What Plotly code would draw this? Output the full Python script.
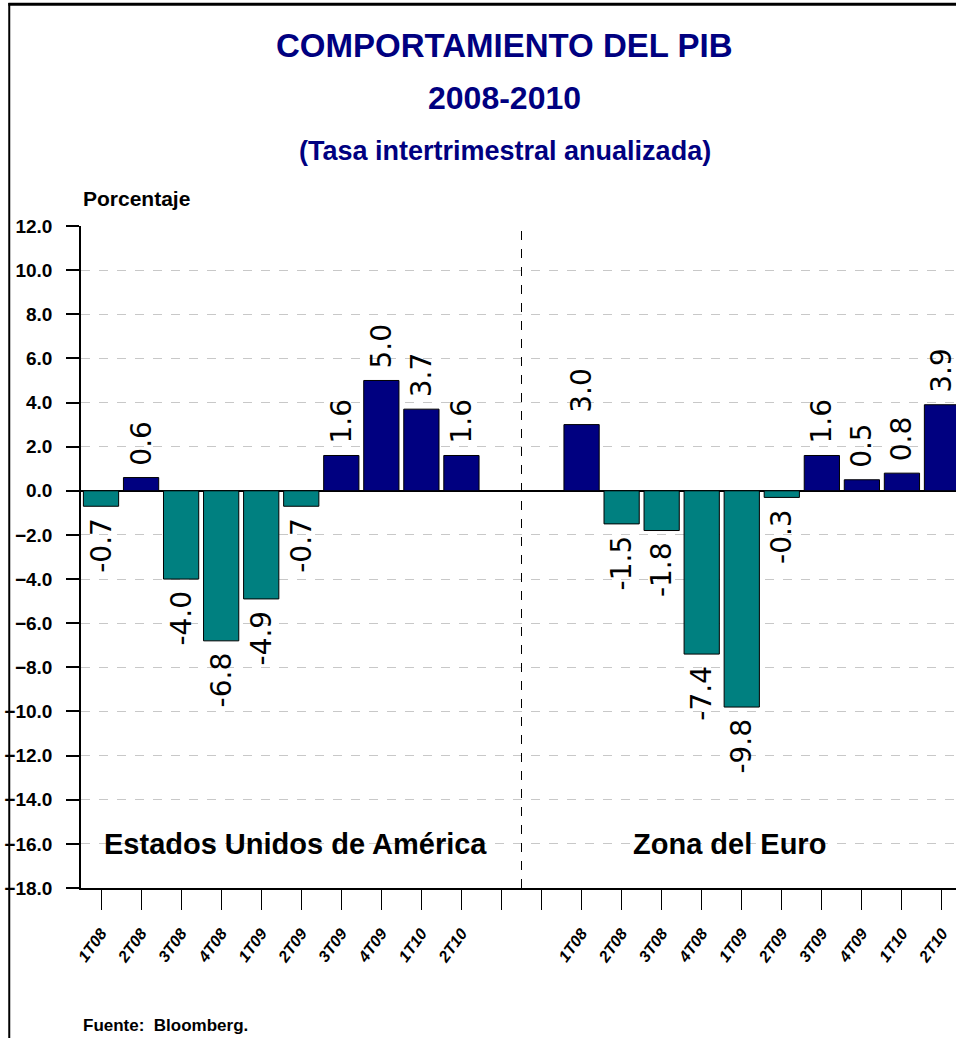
import plotly.graph_objects as go

# Tasa intertrimestral anualizada del PIB, 2008-2010
trimestres = ["1T08", "2T08", "3T08", "4T08", "1T09", "2T09", "3T09", "4T09", "1T10", "2T10"]
pib_eua = [-0.7, 0.6, -4.0, -6.8, -4.9, -0.7, 1.6, 5.0, 3.7, 1.6]
pib_euro = [3.0, -1.5, -1.8, -7.4, -9.8, -0.3, 1.6, 0.5, 0.8, 3.9]

NAVY = "#000080"
TEAL = "#008080"
SANS = "Liberation Sans, Arial, sans-serif"
NBSP = "\u00a0"

keys_eua = ["EUA " + t for t in trimestres]
keys_euro = ["ZE " + t for t in trimestres]
gaps = ["gap1", "gap2"]
all_keys = keys_eua + gaps + keys_euro
all_text = trimestres + ["", ""] + trimestres


def bar_colors(values):
    return [NAVY if v > 0 else TEAL for v in values]


def bar_labels(values):
    # small padding between the bar end and the rotated label
    return [NBSP + f"{v:.1f}" if v > 0 else f"{v:.1f}" + NBSP for v in values]


fig = go.Figure()
for keys, values in [(keys_eua, pib_eua), (keys_euro, pib_euro)]:
    fig.add_trace(go.Bar(
        x=keys,
        y=values,
        width=0.88,
        marker=dict(color=bar_colors(values), line=dict(color="black", width=1)),
        text=bar_labels(values),
        textposition="outside",
        textangle=-90,
        constraintext="none",
        cliponaxis=False,
        textfont=dict(family="DejaVu Sans, Verdana, sans-serif", size=28, color="black"),
        showlegend=False,
    ))

fig.update_layout(
    width=956,
    height=1038,
    margin=dict(l=81, r=0, t=226, b=150, autoexpand=False),
    paper_bgcolor="white",
    plot_bgcolor="white",
    xaxis=dict(
        type="category",
        categoryorder="array",
        categoryarray=all_keys,
        tickvals=all_keys,
        ticktext=all_text,
        range=[-0.5, 21.35],
        automargin=False,
        tickangle=-54,
        ticks="outside",
        ticklen=20,
        tickcolor="black",
        ticklabelstandoff=8,
        tickfont=dict(family=SANS, size=16, color="black", style="italic", weight="bold"),
        showline=True,
        linecolor="black",
        linewidth=1.5,
        showgrid=False,
    ),
    yaxis=dict(
        range=[-18, 12],
        dtick=2,
        tickformat=".1f",
        automargin=False,
        ticks="outside",
        ticklen=13,
        tickcolor="black",
        tickwidth=1.5,
        ticklabelstandoff=10,
        tickfont=dict(family=SANS, size=19, color="black", weight="bold"),
        showline=True,
        linecolor="black",
        linewidth=1.5,
        showgrid=True,
        gridcolor="#c8c8c8",
        griddash="dash",
        zeroline=True,
        zerolinecolor="black",
        zerolinewidth=1.5,
    ),
)

# linea divisoria entre regiones
fig.add_shape(type="line", xref="x", yref="y", x0=10.5, x1=10.5, y0=-18, y1=12,
              line=dict(color="black", width=1, dash="dash"))

# marco de la imagen
fig.add_shape(type="line", xref="paper", yref="paper", x0=-0.083, x1=1.0, y0=1.335, y1=1.335,
              line=dict(color="black", width=3))
fig.add_shape(type="line", xref="paper", yref="paper", x0=-0.082, x1=-0.082, y0=1.337, y1=-0.23,
              line=dict(color="black", width=2))

title_font = dict(family=SANS, color=NAVY, weight="bold")
fig.add_annotation(text="COMPORTAMIENTO DEL PIB", xref="paper", yref="paper", x=0.484, y=1.273,
                   yanchor="middle", showarrow=False, font=dict(size=33, **title_font))
fig.add_annotation(text="2008-2010", xref="paper", yref="paper", x=0.484, y=1.193,
                   yanchor="middle", showarrow=False, font=dict(size=32, **title_font))
fig.add_annotation(text="(Tasa intertrimestral anualizada)", xref="paper", yref="paper", x=0.484, y=1.113,
                   yanchor="middle", showarrow=False, font=dict(size=27, **title_font))

fig.add_annotation(text="Porcentaje", xref="paper", yref="paper", x=0.0, y=1.042, xanchor="left",
                   yanchor="middle", showarrow=False,
                   font=dict(family=SANS, size=21, color="black", weight="bold"))
fig.add_annotation(text="Fuente:  Bloomberg.", xref="paper", yref="paper", x=0.0, y=-0.207, xanchor="left",
                   yanchor="middle", showarrow=False,
                   font=dict(family=SANS, size=17, color="black", weight="bold"))

region_font = dict(family=SANS, size=29, color="black", weight="bold")
fig.add_annotation(text="Estados Unidos de América", xref="x", yref="y", x=4.85, y=-16.0,
                   showarrow=False, font=region_font)
fig.add_annotation(text="Zona del Euro", xref="x", yref="y", x=15.7, y=-16.0,
                   showarrow=False, font=region_font)

# the page's default 8px body margin would push the figure off the window
fig.write_html(
    "out.html",
    config={"displayModeBar": False},
    post_script="document.body.style.margin='0';document.body.style.overflow='hidden';",
)
